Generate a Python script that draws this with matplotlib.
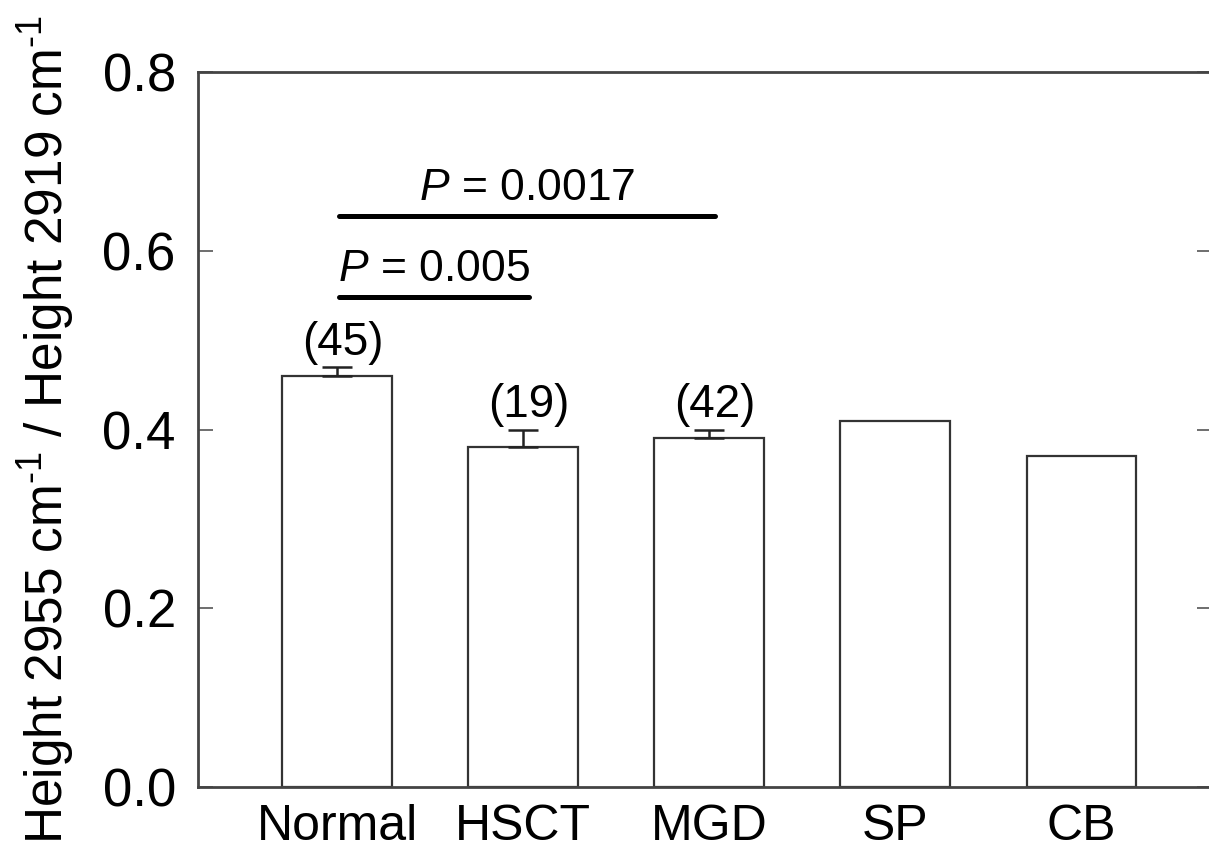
import matplotlib
matplotlib.use('Agg')
import matplotlib.pyplot as plt
import numpy as np

plt.rcParams['font.family'] = ['Liberation Sans', 'DejaVu Sans']
plt.rcParams['mathtext.fontset'] = 'custom'
plt.rcParams['mathtext.rm'] = 'Liberation Sans'
plt.rcParams['mathtext.it'] = 'Liberation Sans:italic'

groups = ['Normal', 'HSCT', 'MGD', 'SP', 'CB']
ratio = [0.46, 0.38, 0.39, 0.41, 0.37]
sem = [0.01, 0.02, 0.01, 0, 0]
counts = ['(45)', '(19)', '(42)', '', '']
# comparisons: (from group, to group, line height, label)
comp_a = (0, 1, 0.548, '$P$ = 0.005')
comp_b = (0, 2, 0.639, '$P$ = 0.0017')

fig = plt.figure(figsize=(12.09, 8.5), dpi=100)
ax = fig.add_axes([0.1638, 0.0741, 0.8385, 0.8412])

ind = np.arange(len(groups))
width = 0.59
ax.bar(ind, ratio, width, color='white', edgecolor='#333333', linewidth=1.6, zorder=2)
for i in range(len(groups)):
    if sem[i] > 0:
        ax.errorbar(ind[i], ratio[i], yerr=[[0], [sem[i]]], fmt='none',
                    ecolor='#222222', elinewidth=1.8, capsize=11, capthick=1.8, zorder=3)
    if counts[i]:
        ax.text(ind[i] + 0.03, ratio[i] + sem[i] + 0.027, counts[i],
                ha='center', va='center', fontsize=33)

for (g0, g1, h, lab) in [comp_a, comp_b]:
    ax.plot([ind[g0] + 0.01, ind[g1] + 0.03], [h, h], color='black',
            linewidth=3.6, solid_capstyle='round', zorder=4)
    ax.text((ind[g0] + ind[g1]) / 2 + 0.02, h + 0.031, lab, ha='center', va='center',
            fontsize=32)

ax.set_xlim(-0.747, 4.70)
ax.set_ylim(0, 0.8)
ax.set_yticks([0.0, 0.2, 0.4, 0.6, 0.8])
ax.set_yticklabels(['0.0', '0.2', '0.4', '0.6', '0.8'])
ax.set_xticks(ind)
ax.set_xticklabels(groups)
ax.tick_params(axis='y', direction='in', length=11, width=1.2, color='#555555',
               labelsize=38, pad=16, right=True)
ax.tick_params(axis='x', length=0, labelsize=36, pad=12)
for s in ax.spines.values():
    s.set_color('#444444')
    s.set_linewidth(2)
ax.set_ylabel('Height 2955 cm$^{\\text{-1}}$ / Height 2919 cm$^{\\text{-1}}$',
              fontsize=37, labelpad=18)

fig.savefig('out.png', dpi=100)
